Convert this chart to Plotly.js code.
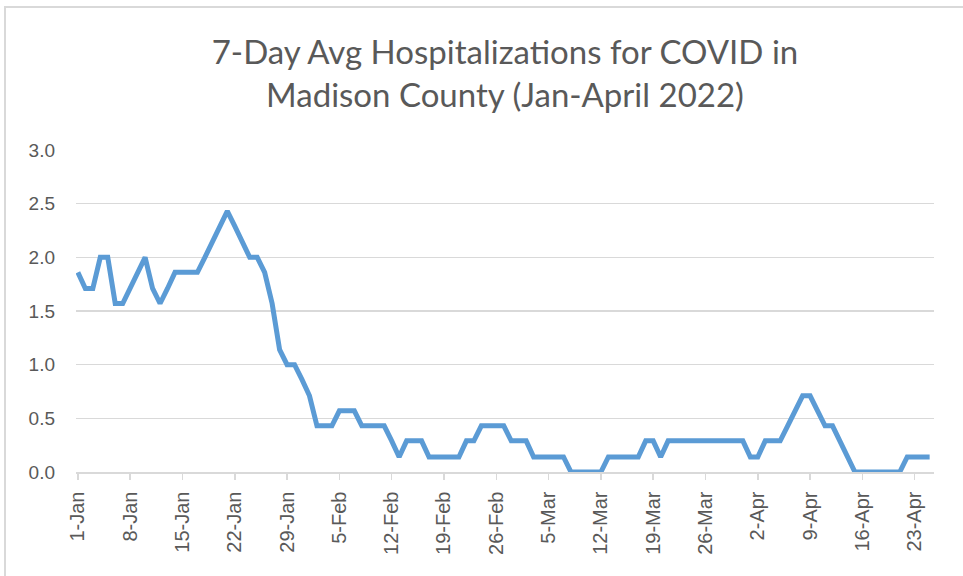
<!DOCTYPE html>
<html>
<head>
<meta charset="utf-8">
<script src="https://cdn.plot.ly/plotly-3.0.1.min.js"></script>
<style>
  html, body { margin: 0; padding: 0; background: #ffffff; }
  #chart { width: 963px; height: 576px; }
  #frame { position: absolute; left: 4px; top: 6px; width: 1000px; height: 600px;
           border-left: 2px solid #d9d9d9; border-top: 2px solid #d9d9d9; pointer-events: none; }
</style>
</head>
<body>
<div id="chart"></div>
<div id="frame"></div>
<script>
// Daily 7-day average hospitalizations, starting 1-Jan-2022 (one value per day)
const startDate = '2022-01-01';
const avgHospitalizations = [
  1.86, 1.71, 1.71, 2.00, 2.00, 1.57, 1.57, 1.71, 1.86, 2.00,
  1.71, 1.57, 1.71, 1.86, 1.86, 1.86, 1.86, 2.00, 2.14, 2.29,
  2.43, 2.29, 2.14, 2.00, 2.00, 1.86, 1.57, 1.14, 1.00, 1.00,
  0.86, 0.71, 0.43, 0.43, 0.43, 0.57, 0.57, 0.57, 0.43, 0.43,
  0.43, 0.43, 0.29, 0.14, 0.29, 0.29, 0.29, 0.14, 0.14, 0.14,
  0.14, 0.14, 0.29, 0.29, 0.43, 0.43, 0.43, 0.43, 0.29, 0.29,
  0.29, 0.14, 0.14, 0.14, 0.14, 0.14, 0.00, 0.00, 0.00, 0.00,
  0.00, 0.14, 0.14, 0.14, 0.14, 0.14, 0.29, 0.29, 0.14, 0.29,
  0.29, 0.29, 0.29, 0.29, 0.29, 0.29, 0.29, 0.29, 0.29, 0.29,
  0.14, 0.14, 0.29, 0.29, 0.29, 0.43, 0.57, 0.71, 0.71, 0.57,
  0.43, 0.43, 0.29, 0.14, 0.00, 0.00, 0.00, 0.00, 0.00, 0.00,
  0.00, 0.14, 0.14, 0.14, 0.14
];
const tickDates = ['2022-01-01','2022-01-08','2022-01-15','2022-01-22','2022-01-29',
  '2022-02-05','2022-02-12','2022-02-19','2022-02-26','2022-03-05','2022-03-12',
  '2022-03-19','2022-03-26','2022-04-02','2022-04-09','2022-04-16','2022-04-23'];
const tickLabels = ['1-Jan','8-Jan','15-Jan','22-Jan','29-Jan','5-Feb','12-Feb','19-Feb',
  '26-Feb','5-Mar','12-Mar','19-Mar','26-Mar','2-Apr','9-Apr','16-Apr','23-Apr'];
const yTicks = [0, 0.5, 1.0, 1.5, 2.0, 2.5, 3.0];
const chartTitle = '7-Day Avg Hospitalizations for COVID in<br>Madison County (Jan-April 2022)';

const trace = {
  type: 'scatter',
  mode: 'lines',
  x0: startDate,
  dx: 86400000,
  y: avgHospitalizations,
  line: { color: '#5b9bd5', width: 5, shape: 'linear' },
  hoverinfo: 'x+y'
};

const layout = {
  width: 963, height: 576,
  paper_bgcolor: '#ffffff', plot_bgcolor: '#ffffff',
  margin: { l: 76, r: 29, t: 150, b: 103.5 },
  showlegend: false,
  title: {
    text: chartTitle,
    font: { family: 'Lato, "Open Sans", sans-serif', size: 33, color: '#595959' },
    x: 0.5, xanchor: 'center', xref: 'paper',
    y: 0.889, yanchor: 'middle', yref: 'container'
  },
  xaxis: {
    type: 'date',
    range: ['2021-12-31 18:00', '2022-04-25 14:00'],
    tickmode: 'array', tickvals: tickDates, ticktext: tickLabels,
    tickangle: -90,
    ticks: 'outside', ticklen: 6, tickwidth: 1.5, tickcolor: '#d9d9d9',
    showline: true, linecolor: '#d9d9d9', linewidth: 1.5,
    showgrid: false, zeroline: false,
    tickfont: { family: '"Liberation Sans", Arial, sans-serif', size: 20, color: '#595959' },
    ticklabelstandoff: 4,
    fixedrange: true
  },
  yaxis: {
    range: [0, 3],
    tickmode: 'array', tickvals: yTicks, tickformat: '.1f',
    showgrid: true, gridcolor: '#d9d9d9', gridwidth: 1.5,
    zeroline: false, showline: false, ticks: '',
    tickfont: { family: '"Liberation Sans", Arial, sans-serif', size: 19, color: '#595959' },
    ticklabelstandoff: 20,
    fixedrange: true
  }
};

Plotly.newPlot('chart', [trace], layout, { displayModeBar: false, staticPlot: true });
</script>
</body>
</html>
